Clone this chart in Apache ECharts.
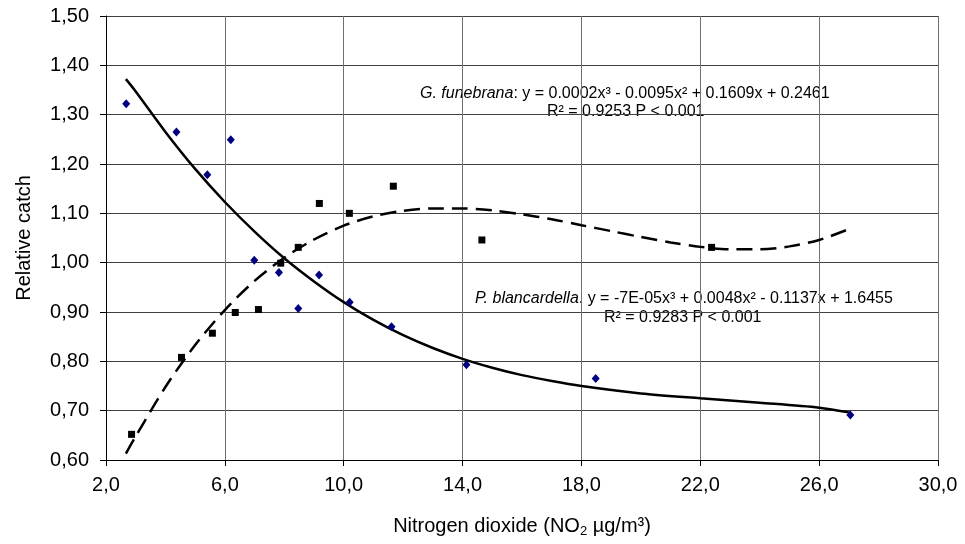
<!DOCTYPE html>
<html>
<head>
<meta charset="utf-8">
<script src="https://cdn.jsdelivr.net/npm/echarts@6/dist/echarts.min.js"></script>
<style>html,body{margin:0;padding:0;background:#fff}#c{width:965px;height:544px}</style>
</head>
<body>
<div id="c"></div>
<script>
// P. blancardella observations (blue diamonds)
const blancX = [2.68, 4.37, 5.41, 6.20, 6.99, 7.82, 8.47, 9.17, 10.20, 11.61, 14.13, 18.48, 27.05];
const blancY = [1.322, 1.265, 1.178, 1.249, 1.005, 0.980, 0.907, 0.975, 0.920, 0.870, 0.793, 0.765, 0.691];
// G. funebrana observations (black squares)
const funebX = [2.86, 4.54, 5.58, 6.35, 7.13, 7.88, 8.47, 9.18, 10.19, 11.67, 14.65, 22.38];
const funebY = [0.652, 0.808, 0.857, 0.899, 0.905, 0.999, 1.031, 1.120, 1.100, 1.155, 1.046, 1.031];
// trend curves
const blancFitX = [2.67, 3, 4, 5, 6, 7, 8, 9, 10, 11, 12, 13, 14, 15, 16, 17, 18, 20, 22, 24, 26, 27.05];
const blancFitY = [1.372, 1.347, 1.265, 1.190, 1.123, 1.063, 1.009, 0.962, 0.920, 0.884, 0.853, 0.827, 0.805, 0.787, 0.772, 0.760, 0.750, 0.735, 0.725, 0.716, 0.706, 0.696];
const funebFitX = [2.67, 3, 4, 5, 6, 7, 8, 9, 10, 11, 12, 13, 14, 15, 16, 17, 18, 19, 20, 21, 22, 23, 24, 25, 26, 27];
const funebFitY = [0.613, 0.648, 0.748, 0.833, 0.904, 0.963, 1.010, 1.047, 1.075, 1.094, 1.105, 1.110, 1.110, 1.106, 1.098, 1.088, 1.076, 1.064, 1.052, 1.041, 1.032, 1.027, 1.027, 1.033, 1.046, 1.068];
// axes
const xMin = 2, xMax = 30, xStep = 4;
const yMin = 0.6, yMax = 1.5, yStep = 0.1;
const xName = 'Nitrogen dioxide (NO{sub|2} µg/m³)';
const yName = 'Relative catch';
const noteFuneb = ['{i|G. funebrana}: y = 0.0002x³ - 0.0095x² + 0.1609x + 0.2461', 'R² = 0.9253 P < 0.001'];
const noteBlanc = ['{i|P. blancardella}. y = -7E-05x³ + 0.0048x² - 0.1137x + 1.6455', 'R² = 0.9283 P < 0.001'];

const pairs = (xs, ys) => xs.map((x, i) => [x, ys[i]]);
const FONT = 'Liberation Sans, Arial, sans-serif';
const chart = echarts.init(document.getElementById('c'));
chart.setOption({
  animation: false,
  backgroundColor: '#fff',
  grid: {left: 106, right: 27, top: 16, bottom: 84},
  xAxis: {
    type: 'value', min: xMin, max: xMax, interval: xStep,
    name: xName, nameLocation: 'middle', nameGap: 54,
    nameTextStyle: {fontFamily: FONT, fontSize: 20, color: '#000', lineHeight: 24,
      rich: {sub: {fontFamily: FONT, fontSize: 13, color: '#000', verticalAlign: 'bottom', padding: [9, 0, 0, 0]}}},
    axisLine: {show: true, onZero: false, lineStyle: {color: '#000', width: 1}},
    axisTick: {show: true, inside: false, length: 6, lineStyle: {color: '#000'}},
    axisLabel: {fontFamily: FONT, fontSize: 20, color: '#000', margin: 15,
      formatter: v => v.toFixed(1).replace('.', ',')},
    splitLine: {show: true, lineStyle: {color: '#707070', width: 1}}
  },
  yAxis: {
    type: 'value', min: yMin, max: yMax, interval: yStep,
    name: yName, nameLocation: 'middle', nameGap: 72,
    nameTextStyle: {fontFamily: FONT, fontSize: 20, color: '#000'},
    axisLine: {show: true, onZero: false, lineStyle: {color: '#000', width: 1}},
    axisTick: {show: true, inside: false, length: 6, lineStyle: {color: '#000'}},
    axisLabel: {fontFamily: FONT, fontSize: 20, color: '#000', margin: 17,
      formatter: v => v.toFixed(2).replace('.', ',')},
    splitLine: {show: true, lineStyle: {color: '#404040', width: 1}}
  },
  graphic: [
    {type: 'text', left: 420, top: 86, z: -1, style: {text: noteFuneb[0], fontFamily: FONT, fontSize: 16, fill: '#000',
      rich: {i: {fontFamily: FONT, fontSize: 16, fontStyle: 'italic', fill: '#000'}}}},
    {type: 'text', left: 547, top: 104, z: -1, style: {text: noteFuneb[1], fontFamily: FONT, fontSize: 16, fill: '#000'}},
    {type: 'text', left: 475, top: 291, z: -1, style: {text: noteBlanc[0], fontFamily: FONT, fontSize: 16, fill: '#000',
      rich: {i: {fontFamily: FONT, fontSize: 16, fontStyle: 'italic', fill: '#000'}}}},
    {type: 'text', left: 604, top: 310, z: -1, style: {text: noteBlanc[1], fontFamily: FONT, fontSize: 16, fill: '#000'}}
  ],
  series: [
    {type: 'line', data: pairs(funebFitX, funebFitY), smooth: 0.3, showSymbol: false, z: 3,
      lineStyle: {color: '#000', width: 2.5, type: [16, 8]}},
    {type: 'line', data: pairs(blancFitX, blancFitY), smooth: 0.3, showSymbol: false, z: 3,
      lineStyle: {color: '#000', width: 2.5}},
    {type: 'scatter', data: pairs(blancX, blancY), symbol: 'diamond', symbolSize: [8, 9], z: 4,
      itemStyle: {color: '#000080', opacity: 1}},
    {type: 'scatter', data: pairs(funebX, funebY), symbol: 'rect', symbolSize: 7, z: 4,
      itemStyle: {color: '#000', opacity: 1}}
  ]
});
</script>
</body>
</html>
